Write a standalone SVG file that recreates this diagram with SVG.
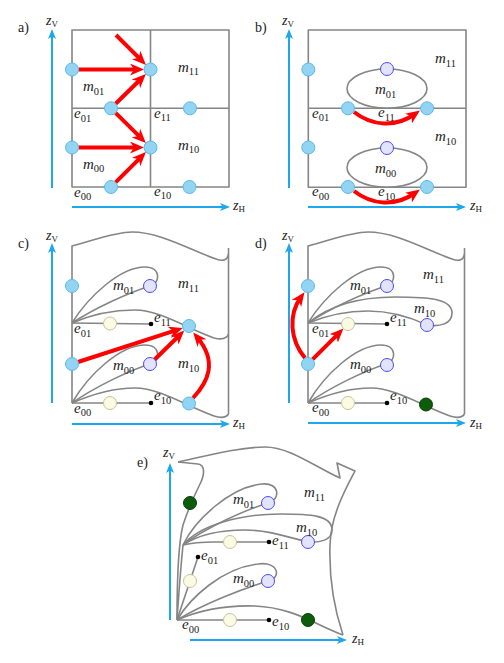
<svg xmlns="http://www.w3.org/2000/svg" width="504" height="663" viewBox="0 0 504 663">
<style>
.bg{fill:#fff}
.g{fill:none;stroke:#858585;stroke-width:1.6;stroke-linejoin:round}
.blue{fill:#93d4f3;stroke:#5ab9ea;stroke-width:1}
.lav{fill:#e3e3fb;stroke:#4a4af2;stroke-width:1}
.cream{fill:#fbfbe3;stroke:#c4c4a0;stroke-width:1}
.green{fill:#0c5c0c;stroke:#074007;stroke-width:1}
.dot{fill:#000}
.red{fill:none;stroke:#f00;stroke-width:4;marker-end:url(#ar)}
.ax{fill:none;stroke:#1ea7ea;stroke-width:2;marker-end:url(#axh)}
text{font-family:"Liberation Serif","DejaVu Serif",serif;fill:#222}
.lb{font-size:15px;font-style:italic}
.s{font-size:10.5px;font-style:normal}
.pl{font-size:14px}
.az{font-size:14px;font-style:italic}
.as{font-size:9px;font-style:normal}
</style>
<defs>
<marker id="ar" viewBox="0 0 14 12" refX="8" refY="6" markerWidth="14" markerHeight="12" markerUnits="userSpaceOnUse" orient="auto"><path d="M0,0 L14,6 L0,12 L4,6 Z" fill="#f00"/></marker>
<marker id="axh" viewBox="0 0 10 8" refX="5" refY="4" markerWidth="10" markerHeight="8" markerUnits="userSpaceOnUse" orient="auto"><path d="M0,0 L10,4 L0,8 L2.5,4 Z" fill="#1ea7ea"/></marker>
</defs>
<rect class="bg" x="0" y="0" width="504" height="663"/>

<!-- ================= Panel a ================= -->
<g id="panel-a">
<text class="pl" x="18" y="32">a)</text>
<g id="a-axes">
<line class="ax" x1="52" y1="188" x2="52" y2="34"/>
<line class="ax" x1="72" y1="207" x2="225" y2="207"/>
<text class="az" x="46" y="25">z<tspan class="as" dy="2">V</tspan></text>
<text class="az" x="233" y="210">z<tspan class="as" dy="2">H</tspan></text>
</g>
<g id="a-grid">
<rect class="g" x="72" y="30" width="157" height="157"/>
<line class="g" x1="150.5" y1="30" x2="150.5" y2="187"/>
<line class="g" x1="72" y1="108.3" x2="229" y2="108.3"/>
</g>
<g id="a-connectors">
<line class="red" x1="116" y1="35" x2="141.7" y2="60.7"/>
<line class="red" x1="78.5" y1="69.5" x2="138" y2="69.5"/>
<line class="red" x1="115.6" y1="103.8" x2="141.6" y2="78.3"/>
<line class="red" x1="115.6" y1="112.9" x2="141.6" y2="138.7"/>
<line class="red" x1="78.5" y1="147.5" x2="138" y2="147.5"/>
<line class="red" x1="115.6" y1="182.4" x2="141.7" y2="156.3"/>
</g>
<g id="a-n1"><circle class="blue" cx="72" cy="69.5" r="6.5"/></g>
<g id="a-n2"><circle class="blue" cx="150.5" cy="69.5" r="6.5"/></g>
<g id="a-n3"><circle class="blue" cx="111" cy="108.3" r="6.5"/></g>
<g id="a-n4"><circle class="blue" cx="190" cy="108.3" r="6.5"/></g>
<g id="a-n5"><circle class="blue" cx="72" cy="147.5" r="6.5"/></g>
<g id="a-n6"><circle class="blue" cx="150.5" cy="147.5" r="6.5"/></g>
<g id="a-n7"><circle class="blue" cx="111" cy="187" r="6.5"/></g>
<g id="a-n8"><circle class="blue" cx="189.5" cy="187" r="6.5"/></g>
<g id="a-labels">
<text class="lb" x="83" y="91">m<tspan class="s" dy="3.5">01</tspan></text>
<text class="lb" x="178" y="71.5">m<tspan class="s" dy="3.5">11</tspan></text>
<text class="lb" x="178" y="149.5">m<tspan class="s" dy="3.5">10</tspan></text>
<text class="lb" x="83" y="168.5">m<tspan class="s" dy="3.5">00</tspan></text>
<text class="lb" x="74" y="118">e<tspan class="s" dy="3.5">01</tspan></text>
<text class="lb" x="154" y="117.5">e<tspan class="s" dy="3.5">11</tspan></text>
<text class="lb" x="74" y="196.5">e<tspan class="s" dy="3.5">00</tspan></text>
<text class="lb" x="154" y="195.5">e<tspan class="s" dy="3.5">10</tspan></text>
</g>
</g>

<!-- ================= Panel b ================= -->
<g id="panel-b">
<text class="pl" x="255" y="32">b)</text>
<g id="b-axes">
<line class="ax" x1="289" y1="188" x2="289" y2="34"/>
<line class="ax" x1="308" y1="207" x2="461" y2="207"/>
<text class="az" x="282" y="25">z<tspan class="as" dy="2">V</tspan></text>
<text class="az" x="470" y="210">z<tspan class="as" dy="2">H</tspan></text>
</g>
<g id="b-shapes">
<rect class="g" x="308.3" y="30" width="157.7" height="157.3"/>
<line class="g" x1="308.3" y1="108.3" x2="466" y2="108.3"/>
<ellipse class="g" cx="387" cy="88.6" rx="40" ry="19.6"/>
<ellipse class="g" cx="387" cy="167.6" rx="40" ry="19.6"/>
</g>
<g id="b-connectors">
<path class="red" d="M354,112 C372,126 395,128 415,114"/>
<path class="red" d="M354,191 C372,205 395,207 415,193"/>
</g>
<g id="b-n1"><circle class="blue" cx="308.3" cy="69.5" r="6.5"/></g>
<g id="b-n2"><circle class="blue" cx="308.3" cy="147.5" r="6.5"/></g>
<g id="b-n3"><circle class="blue" cx="348" cy="108.3" r="6.5"/></g>
<g id="b-n4"><circle class="blue" cx="427" cy="108.3" r="6.5"/></g>
<g id="b-n5"><circle class="blue" cx="348" cy="187" r="6.5"/></g>
<g id="b-n6"><circle class="blue" cx="427" cy="187" r="6.5"/></g>
<g id="b-n7"><circle class="lav" cx="387" cy="69" r="6.5"/></g>
<g id="b-n8"><circle class="lav" cx="387" cy="148" r="6.5"/></g>
<g id="b-labels">
<text class="lb" x="435" y="63">m<tspan class="s" dy="3.5">11</tspan></text>
<text class="lb" x="375" y="94">m<tspan class="s" dy="3.5">01</tspan></text>
<text class="lb" x="435" y="141">m<tspan class="s" dy="3.5">10</tspan></text>
<text class="lb" x="375" y="173">m<tspan class="s" dy="3.5">00</tspan></text>
<text class="lb" x="312" y="117.5">e<tspan class="s" dy="3.5">01</tspan></text>
<text class="lb" x="378" y="117">e<tspan class="s" dy="3.5">11</tspan></text>
<text class="lb" x="312" y="196">e<tspan class="s" dy="3.5">00</tspan></text>
<text class="lb" x="378" y="196">e<tspan class="s" dy="3.5">10</tspan></text>
</g>
</g>

<!-- ================= Panel c ================= -->
<g id="panel-c">
<text class="pl" x="18" y="248">c)</text>
<g id="c-axes">
<line class="ax" x1="52" y1="403" x2="52" y2="248"/>
<line class="ax" x1="72" y1="424" x2="225" y2="424"/>
<text class="az" x="46" y="240">z<tspan class="as" dy="2">V</tspan></text>
<text class="az" x="233" y="427">z<tspan class="as" dy="2">H</tspan></text>
</g>
<g id="c-shapes">
<path class="g" d="M72,403 L72,246 C95,240 115,232 132,232 C160,232 190,250 216,259 Q227,263 228.5,254"/>
<path class="g" d="M228.5,248 L228.5,414"/>
<path class="g" d="M72,323 C95,313 118,310 135,310 C160,310 190,330 214,338 Q226,341 228.5,334"/>
<path class="g" d="M72,403 C95,393 118,388 135,388 C160,388 190,408 214,416 Q225,419.5 228.5,414"/>
<path class="g" d="M72,323 C88,297 120,267 145,267 C162,267 160,284 150,286 C128,293 95,308 72,323"/>
<path class="g" d="M72,403 C88,375 120,345 145,345 C162,345 160,362 150,364 C128,371 95,387 72,403"/>
<path class="g" d="M72,323 L151,324"/>
<path class="g" d="M72,403 L151,403"/>
</g>
<g id="c-connectors">
<line class="red" x1="78" y1="362" x2="177.1" y2="329.9"/>
<line class="red" x1="154.7" y1="359.5" x2="180" y2="334.7"/>
<path class="red" d="M193,398 C208,382 218,362 197,337"/>
</g>
<g id="c-n1"><circle class="blue" cx="72" cy="286" r="6.5"/></g>
<g id="c-n2"><circle class="blue" cx="72" cy="364" r="6.5"/></g>
<g id="c-n3"><circle class="blue" cx="189" cy="326" r="6.5"/></g>
<g id="c-n4"><circle class="blue" cx="189" cy="403.5" r="6.5"/></g>
<g id="c-n5"><circle class="lav" cx="150" cy="286" r="6.5"/></g>
<g id="c-n6"><circle class="lav" cx="150" cy="364" r="6.5"/></g>
<g id="c-n7"><circle class="cream" cx="110" cy="323.5" r="6.5"/></g>
<g id="c-n8"><circle class="cream" cx="110" cy="403" r="6.5"/></g>
<g id="c-n9"><circle class="dot" cx="151" cy="324" r="2.3"/></g>
<g id="c-n10"><circle class="dot" cx="151" cy="403" r="2.3"/></g>
<g id="c-labels">
<text class="lb" x="113" y="290">m<tspan class="s" dy="3.5">01</tspan></text>
<text class="lb" x="178" y="288">m<tspan class="s" dy="3.5">11</tspan></text>
<text class="lb" x="113" y="370">m<tspan class="s" dy="3.5">00</tspan></text>
<text class="lb" x="178" y="368">m<tspan class="s" dy="3.5">10</tspan></text>
<text class="lb" x="74" y="333">e<tspan class="s" dy="3.5">01</tspan></text>
<text class="lb" x="154" y="322">e<tspan class="s" dy="3.5">11</tspan></text>
<text class="lb" x="74" y="412.5">e<tspan class="s" dy="3.5">00</tspan></text>
<text class="lb" x="154" y="400">e<tspan class="s" dy="3.5">10</tspan></text>
</g>
</g>

<!-- ================= Panel d ================= -->
<g id="panel-d">
<text class="pl" x="255" y="248">d)</text>
<g id="d-axes">
<line class="ax" x1="289" y1="403" x2="289" y2="248"/>
<line class="ax" x1="308" y1="423" x2="461" y2="423"/>
<text class="az" x="282" y="240">z<tspan class="as" dy="2">V</tspan></text>
<text class="az" x="470" y="427">z<tspan class="as" dy="2">H</tspan></text>
</g>
<g id="d-shapes">
<path class="g" d="M308,403 L308,246 C331,240 351,232 368,232 C396,232 426,250 452,259 Q463,263 464.5,254"/>
<path class="g" d="M464.5,248 L464.5,414"/>
<path class="g" d="M308,403 C331,393 354,388 371,388 C396,388 426,408 450,416 Q461,419.5 464.5,414"/>
<path class="g" d="M308,323 C324,297 356,267 381,267 C398,267 396,284 386,286 C364,293 331,308 308,323"/>
<path class="g" d="M308,403 C324,375 356,345 381,345 C398,345 396,362 386,364 C364,371 331,387 308,403"/>
<path class="g" d="M308,323 C330,305 360,297 395,297 C430,297 452,299 452,313 C452,324 440,327 427,325 C410,317 390,311 368,311 C345,311 325,316 308,323"/>
<path class="g" d="M308,323 L387,324"/>
<path class="g" d="M308,403 L387,403"/>
</g>
<g id="d-connectors">
<path class="red" d="M305,358 C290,340 288,315 301,297"/>
<line class="red" x1="312.6" y1="359.4" x2="339.2" y2="332.8"/>
</g>
<g id="d-n1"><circle class="blue" cx="308" cy="286" r="6.5"/></g>
<g id="d-n2"><circle class="blue" cx="308" cy="364" r="6.5"/></g>
<g id="d-n3"><circle class="lav" cx="387" cy="286" r="6.5"/></g>
<g id="d-n4"><circle class="lav" cx="387" cy="365" r="6.5"/></g>
<g id="d-n5"><circle class="lav" cx="427" cy="325" r="6.5"/></g>
<g id="d-n6"><circle class="cream" cx="348" cy="324" r="6.5"/></g>
<g id="d-n7"><circle class="cream" cx="348" cy="403" r="6.5"/></g>
<g id="d-n8"><circle class="dot" cx="387" cy="324" r="2.3"/></g>
<g id="d-n9"><circle class="dot" cx="387" cy="403" r="2.3"/></g>
<g id="d-n10"><circle class="green" cx="426" cy="404.5" r="6.5"/></g>
<g id="d-labels">
<text class="lb" x="350" y="290">m<tspan class="s" dy="3.5">01</tspan></text>
<text class="lb" x="423" y="279">m<tspan class="s" dy="3.5">11</tspan></text>
<text class="lb" x="414" y="313">m<tspan class="s" dy="3.5">10</tspan></text>
<text class="lb" x="350" y="369">m<tspan class="s" dy="3.5">00</tspan></text>
<text class="lb" x="312" y="333">e<tspan class="s" dy="3.5">01</tspan></text>
<text class="lb" x="390" y="322">e<tspan class="s" dy="3.5">11</tspan></text>
<text class="lb" x="312" y="412">e<tspan class="s" dy="3.5">00</tspan></text>
<text class="lb" x="390" y="400">e<tspan class="s" dy="3.5">10</tspan></text>
</g>
</g>

<!-- ================= Panel e ================= -->
<g id="panel-e">
<text class="pl" x="137" y="467">e)</text>
<g id="e-axes">
<line class="ax" x1="170" y1="620" x2="170" y2="468"/>
<line class="ax" x1="190" y1="640" x2="342" y2="640"/>
<text class="az" x="163" y="457">z<tspan class="as" dy="2">V</tspan></text>
<text class="az" x="352" y="643">z<tspan class="as" dy="2">H</tspan></text>
</g>
<g id="e-shapes">
<path class="g" d="M177,620 C177,590 178,545 183,525 C188,510 195,494 200,484 C205,474 205,465 198,464 L178,462"/>
<path class="g" d="M178,462 C210,455 240,447 265,447 C290,447 315,467 340,478 L337,463 L355,471 C345,490 331,515 330,545 C329,575 333,605 343,635"/>
<path class="g" d="M177,620 C200,610 225,605 255,606 C280,607 300,615 320,625 C330,630 338,633 343,635"/>
<path class="g" d="M177,620 L269,620"/>
<path class="g" d="M177,620 C190,598 222,568 258,564 C280,561 281,579 268,581 C245,588 205,603 177,620"/>
<path class="g" d="M177,620 L198,557"/>
<path class="g" d="M177,620 C179,590 181,565 183,545"/>
<path class="g" d="M183,545 C195,520 230,487 262,484 C280,482 281,500 268,503 C245,510 205,528 183,545"/>
<path class="g" d="M183,545 C200,525 240,514 280,514 C310,514 332,515 332,530 C332,540 320,543 308,542 C290,538 270,530 245,530 C215,530 195,537 183,545"/>
<path class="g" d="M183,545 C195,542 205,542 215,542 L269,542"/>
</g>
<g id="e-n1"><circle class="green" cx="190" cy="503" r="6.5"/></g>
<g id="e-n2"><circle class="lav" cx="268" cy="503" r="6.5"/></g>
<g id="e-n3"><circle class="lav" cx="308" cy="542" r="6.5"/></g>
<g id="e-n4"><circle class="lav" cx="268" cy="581" r="6.5"/></g>
<g id="e-n5"><circle class="cream" cx="230" cy="542" r="6.5"/></g>
<g id="e-n6"><circle class="cream" cx="190" cy="581" r="6.5"/></g>
<g id="e-n7"><circle class="cream" cx="230" cy="620" r="6.5"/></g>
<g id="e-n8"><circle class="dot" cx="269" cy="542" r="2.3"/></g>
<g id="e-n9"><circle class="dot" cx="198" cy="557" r="2.3"/></g>
<g id="e-n10"><circle class="dot" cx="269" cy="620" r="2.3"/></g>
<g id="e-n11"><circle class="green" cx="308" cy="620" r="6.5"/></g>
<g id="e-labels">
<text class="lb" x="233" y="504">m<tspan class="s" dy="3.5">01</tspan></text>
<text class="lb" x="304" y="497">m<tspan class="s" dy="3.5">11</tspan></text>
<text class="lb" x="296" y="532">m<tspan class="s" dy="3.5">10</tspan></text>
<text class="lb" x="233" y="583">m<tspan class="s" dy="3.5">00</tspan></text>
<text class="lb" x="272" y="545">e<tspan class="s" dy="3.5">11</tspan></text>
<text class="lb" x="201" y="560">e<tspan class="s" dy="3.5">01</tspan></text>
<text class="lb" x="182" y="629">e<tspan class="s" dy="3.5">00</tspan></text>
<text class="lb" x="272" y="626">e<tspan class="s" dy="3.5">10</tspan></text>
</g>
</g>
</svg>
